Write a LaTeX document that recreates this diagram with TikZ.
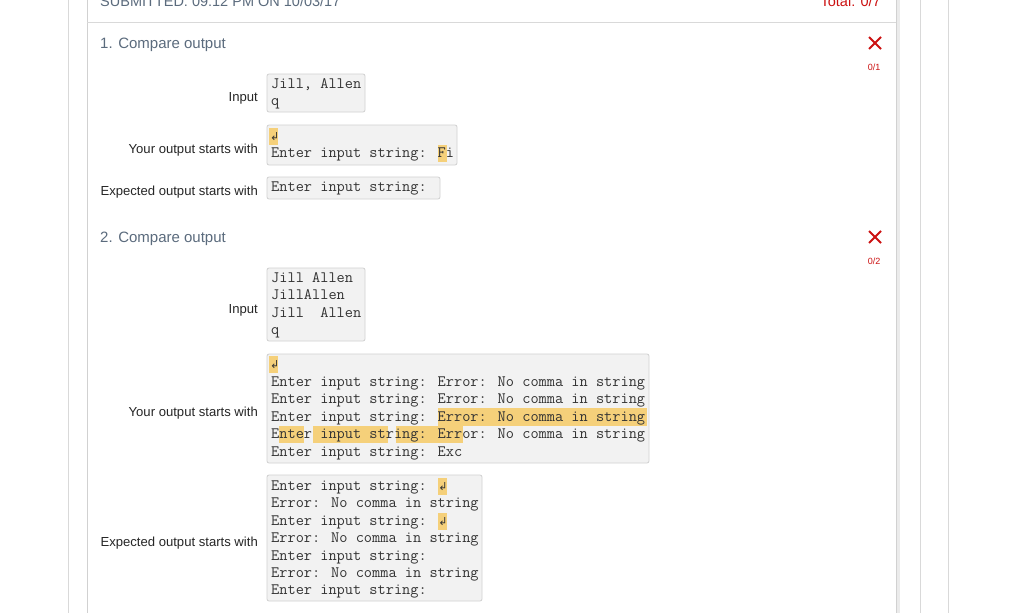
\documentclass[tikz,border=0pt]{standalone}
\usepackage{fontspec}
\usetikzlibrary{shapes.misc}
\setmainfont{Liberation Sans}
\newfontfamily\dvs{DejaVu Sans}
\definecolor{hl}{HTML}{F5D07A}
\definecolor{boxbg}{HTML}{F2F2F2}
\definecolor{boxln}{HTML}{D0D0D0}
\definecolor{ttl}{HTML}{5B6B7D}
\definecolor{errred}{HTML}{CC1111}
\newcommand{\cw}{8.36}
\begin{document}
\begin{tikzpicture}[x=1pt,y=-1pt,
  code/.style={anchor=base west,inner sep=0,font=\ttfamily\fontsize{15.9}{16}\selectfont,text=black!80},
  lbl/.style={anchor=east,inner sep=0,font=\fontsize{13.1}{14}\selectfont,text=black!85},
  ttlst/.style={anchor=west,inner sep=0,font=\fontsize{15}{16}\selectfont,text=ttl},
  cbox/.style={fill=boxbg,draw=boxln,rounded corners=2pt,line width=0.8pt},
  hlbox/.style={fill=hl},
  xmark/.style={draw=errred,line width=2pt,minimum size=10pt,inner sep=0,cross out},
  ret/.style={anchor=base west,inner sep=0,font=\dvs\fontsize{11}{12}\selectfont,text=black!80}]
\useasboundingbox (0,0) rectangle (1024,613);
\fill[white] (0,0) rectangle (1024,613);
\draw[black!15,line width=1pt] (68,0) -- (68,613);
\draw[black!15,line width=1pt] (920,0) -- (920,613);
\draw[black!15,line width=1pt] (948,0) -- (948,613);
\fill[black!8] (896,0) rectangle (900,613);
\draw[black!18,line width=1pt] (87,0) -- (87,613);
\draw[black!18,line width=1pt] (896,0) -- (896,613);
\draw[black!15,line width=1pt] (87,22) -- (896,22);
\node[anchor=west,inner sep=0,font=\fontsize{14.5}{16}\selectfont,text=ttl] (sub) at (100,1) {SUBMITTED: 09:12 PM ON 10/03/17};
\node[anchor=east,inner sep=0,font=\fontsize{14.5}{16}\selectfont,text=errred] (tot) at (881,1) {Total: 0/7};
% section 1
\node[ttlst] (t1) at (100,45) {1. Compare output};
\node[xmark] (x1) at (875,43) {};
\node[inner sep=0,font=\fontsize{9}{10}\selectfont,text=errred] (s1) at (874,67) {0/1};
\node[lbl] (l1) at (258,98) {Input};
\node[lbl] (l2) at (258,150) {Your output starts with};
\node[lbl] (l3) at (258,192) {Expected output starts with};
\draw[cbox] (267,74) rectangle (365,112);
\draw[cbox] (267,125) rectangle (457,165);
\draw[cbox] (267,177) rectangle (440,199);
\node[code] (a1) at (271,88) {Jill, Allen};
\node[code] (a2) at (271,105) {q};
\fill[hlbox] (269,128) rectangle (278,145);
\fill[hlbox] ({271+20*\cw},145) rectangle ({271+21*\cw},162);
\node[ret] (b0) at (270,140) {↲};
\node[code] (b1) at (271,157) {Enter input string: Fi};
\node[code] (c1) at (271,191) {Enter input string:};
% section 2
\node[ttlst] (t2) at (100,239) {2. Compare output};
\node[xmark] (x2) at (875,237) {};
\node[inner sep=0,font=\fontsize{9}{10}\selectfont,text=errred] (s2) at (874,261) {0/2};
\node[lbl] (l4) at (258,310) {Input};
\node[lbl] (l5) at (258,413) {Your output starts with};
\node[lbl] (l6) at (258,543) {Expected output starts with};
\draw[cbox] (267,268) rectangle (365,341);
\draw[cbox] (267,354) rectangle (649,463);
\draw[cbox] (267,475) rectangle (482,601);
\node[code] (d1) at (271,282) {Jill Allen};
\node[code] (d2) at (271,299) {JillAllen};
\node[code] (d3) at (271,317) {Jill\ \ Allen};
\node[code] (d4) at (271,334) {q};
\fill[hlbox] (269,356) rectangle (278,373);
\fill[hlbox] ({271+20*\cw},408) rectangle ({271+45*\cw},426);
\fill[hlbox] ({271+1*\cw},426) rectangle ({271+4*\cw},443);
\fill[hlbox] ({271+5*\cw},426) rectangle ({271+14*\cw},443);
\fill[hlbox] ({271+15*\cw},426) rectangle ({271+23*\cw},443);
\node[ret] (e0) at (270,368) {↲};
\node[code] (e1) at (271,386) {Enter input string: Error: No comma in string};
\node[code] (e2) at (271,403) {Enter input string: Error: No comma in string};
\node[code] (e3) at (271,421) {Enter input string: Error: No comma in string};
\node[code] (e4) at (271,438) {Enter input string: Error: No comma in string};
\node[code] (e5) at (271,456) {Enter input string: Exc};
\fill[hlbox] ({271+20*\cw},478) rectangle ({271+21*\cw},495);
\fill[hlbox] ({271+20*\cw},513) rectangle ({271+21*\cw},530);
\node[code] (f1) at (271,490) {Enter input string:};
\node[ret] (f1r) at ({271+20*\cw},490) {↲};
\node[code] (f2) at (271,507) {Error: No comma in string};
\node[code] (f3) at (271,525) {Enter input string:};
\node[ret] (f3r) at ({271+20*\cw},525) {↲};
\node[code] (f4) at (271,542) {Error: No comma in string};
\node[code] (f5) at (271,560) {Enter input string:};
\node[code] (f6) at (271,577) {Error: No comma in string};
\node[code] (f7) at (271,594) {Enter input string:};
\end{tikzpicture}
\end{document}
